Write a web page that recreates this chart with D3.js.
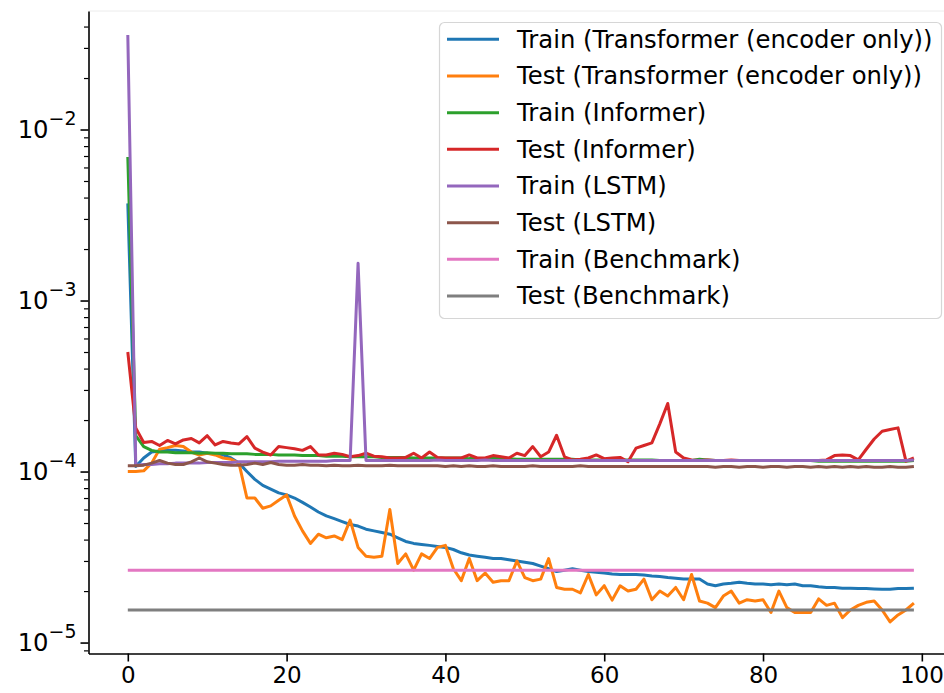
<!DOCTYPE html>
<html>
<head>
<meta charset="utf-8">
<script src="https://cdn.jsdelivr.net/npm/d3@7"></script>
<style>
  html, body { margin: 0; padding: 0; background: #fff; }
  svg { display: block; }
  text { font-family: "DejaVu Sans", sans-serif; }
</style>
</head>
<body>
<svg id="chart" width="944" height="693"></svg>
<script>
// ---------------- DATA ----------------
const seriesNames = [
  "Train (Transformer (encoder only))",
  "Test (Transformer (encoder only))",
  "Train (Informer)",
  "Test (Informer)",
  "Train (LSTM)",
  "Test (LSTM)",
  "Train (Benchmark)",
  "Test (Benchmark)"
];
const seriesColors = ["#1f77b4", "#ff7f0e", "#2ca02c", "#d62728", "#9467bd", "#8c564b", "#e377c2", "#7f7f7f"];

const xTicks = [0, 20, 40, 60, 80, 100];
const yMajorTicks = [1e-5, 1e-4, 1e-3, 1e-2];
const yTickExponents = ["−5", "−4", "−3", "−2"];

const trainTransformer = [
  3.7e-3, 1.07e-4, 1.2e-4, 1.3e-4, 1.32e-4, 1.33e-4, 1.33e-4, 1.32e-4, 1.3e-4, 1.3e-4,
  1.28e-4, 1.27e-4, 1.25e-4, 1.2e-4, 1.12e-4, 1.0e-4, 9.0e-5, 8.3e-5, 7.9e-5, 7.5e-5,
  7.3e-5, 7.0e-5, 6.6e-5, 6.2e-5, 5.8e-5, 5.5e-5, 5.3e-5, 5.1e-5, 4.9e-5, 4.8e-5,
  4.6e-5, 4.5e-5, 4.4e-5, 4.3e-5, 4.1e-5, 3.9e-5, 3.8e-5, 3.75e-5, 3.7e-5, 3.65e-5,
  3.6e-5, 3.5e-5, 3.35e-5, 3.25e-5, 3.2e-5, 3.15e-5, 3.1e-5, 3.1e-5, 3.05e-5, 3.0e-5,
  2.95e-5, 2.9e-5, 2.8e-5, 2.7e-5, 2.6e-5, 2.65e-5, 2.7e-5, 2.65e-5, 2.6e-5, 2.58e-5,
  2.55e-5, 2.52e-5, 2.5e-5, 2.5e-5, 2.5e-5, 2.48e-5, 2.45e-5, 2.43e-5, 2.4e-5, 2.38e-5,
  2.35e-5, 2.35e-5, 2.35e-5, 2.2e-5, 2.15e-5, 2.2e-5, 2.22e-5, 2.25e-5, 2.22e-5, 2.2e-5,
  2.2e-5, 2.18e-5, 2.2e-5, 2.18e-5, 2.2e-5, 2.15e-5, 2.15e-5, 2.12e-5, 2.1e-5, 2.1e-5,
  2.08e-5, 2.08e-5, 2.07e-5, 2.07e-5, 2.06e-5, 2.05e-5, 2.05e-5, 2.07e-5, 2.07e-5, 2.08e-5
];
const testTransformer = [
  1.0e-4, 1.0e-4, 1.01e-4, 1.12e-4, 1.35e-4, 1.38e-4, 1.42e-4, 1.4e-4, 1.3e-4, 1.25e-4,
  1.28e-4, 1.25e-4, 1.2e-4, 1.18e-4, 1.12e-4, 7.0e-5, 7.0e-5, 6.1e-5, 6.3e-5, 6.8e-5,
  7.3e-5, 5.5e-5, 4.5e-5, 3.8e-5, 4.3e-5, 4.1e-5, 4.2e-5, 4.0e-5, 5.2e-5, 3.6e-5,
  3.2e-5, 3.15e-5, 3.2e-5, 6.0e-5, 2.9e-5, 3.3e-5, 2.65e-5, 3.3e-5, 3.1e-5, 3.6e-5,
  3.7e-5, 2.7e-5, 2.3e-5, 3.1e-5, 2.3e-5, 2.55e-5, 2.25e-5, 2.3e-5, 2.3e-5, 3.0e-5,
  2.4e-5, 2.3e-5, 2.35e-5, 3.1e-5, 2.1e-5, 2.05e-5, 2.05e-5, 1.95e-5, 2.5e-5, 1.9e-5,
  2.15e-5, 1.77e-5, 2.15e-5, 2.0e-5, 2.05e-5, 2.35e-5, 1.78e-5, 2.0e-5, 1.87e-5, 2.1e-5,
  1.78e-5, 2.5e-5, 1.75e-5, 1.7e-5, 1.6e-5, 1.87e-5, 2.0e-5, 1.7e-5, 1.78e-5, 1.75e-5,
  1.78e-5, 1.5e-5, 2.0e-5, 1.6e-5, 1.5e-5, 1.5e-5, 1.5e-5, 1.8e-5, 1.65e-5, 1.7e-5,
  1.4e-5, 1.55e-5, 1.65e-5, 1.72e-5, 1.75e-5, 1.55e-5, 1.32e-5, 1.45e-5, 1.55e-5, 1.7e-5
];
const trainInformer = [
  6.9e-3, 1.62e-4, 1.4e-4, 1.33e-4, 1.3e-4, 1.3e-4, 1.29e-4, 1.29e-4, 1.29e-4, 1.28e-4,
  1.29e-4, 1.28e-4, 1.28e-4, 1.27e-4, 1.27e-4, 1.27e-4, 1.26e-4, 1.26e-4, 1.26e-4, 1.25e-4,
  1.25e-4, 1.25e-4, 1.24e-4, 1.24e-4, 1.24e-4, 1.23e-4, 1.23e-4, 1.23e-4, 1.22e-4, 1.22e-4,
  1.22e-4, 1.22e-4, 1.21e-4, 1.21e-4, 1.21e-4, 1.21e-4, 1.2e-4, 1.2e-4, 1.2e-4, 1.2e-4,
  1.2e-4, 1.2e-4, 1.2e-4, 1.19e-4, 1.19e-4, 1.19e-4, 1.19e-4, 1.19e-4, 1.19e-4, 1.18e-4,
  1.18e-4, 1.18e-4, 1.18e-4, 1.18e-4, 1.18e-4, 1.18e-4, 1.18e-4, 1.17e-4, 1.17e-4, 1.17e-4,
  1.17e-4, 1.17e-4, 1.17e-4, 1.17e-4, 1.17e-4, 1.17e-4, 1.17e-4, 1.16e-4, 1.16e-4, 1.16e-4,
  1.16e-4, 1.16e-4, 1.18e-4, 1.17e-4, 1.16e-4, 1.16e-4, 1.16e-4, 1.16e-4, 1.16e-4, 1.16e-4,
  1.16e-4, 1.16e-4, 1.16e-4, 1.16e-4, 1.16e-4, 1.16e-4, 1.16e-4, 1.15e-4, 1.15e-4, 1.15e-4,
  1.15e-4, 1.15e-4, 1.15e-4, 1.15e-4, 1.15e-4, 1.15e-4, 1.15e-4, 1.15e-4, 1.15e-4, 1.16e-4
];
const testInformer = [
  5.0e-4, 1.8e-4, 1.48e-4, 1.5e-4, 1.42e-4, 1.52e-4, 1.45e-4, 1.53e-4, 1.56e-4, 1.47e-4,
  1.62e-4, 1.43e-4, 1.5e-4, 1.47e-4, 1.45e-4, 1.6e-4, 1.37e-4, 1.3e-4, 1.25e-4, 1.4e-4,
  1.38e-4, 1.36e-4, 1.33e-4, 1.4e-4, 1.25e-4, 1.25e-4, 1.28e-4, 1.26e-4, 1.22e-4, 1.24e-4,
  1.28e-4, 1.23e-4, 1.22e-4, 1.2e-4, 1.2e-4, 1.21e-4, 1.28e-4, 1.2e-4, 1.3e-4, 1.21e-4,
  1.2e-4, 1.2e-4, 1.2e-4, 1.25e-4, 1.2e-4, 1.2e-4, 1.24e-4, 1.22e-4, 1.2e-4, 1.28e-4,
  1.24e-4, 1.4e-4, 1.22e-4, 1.3e-4, 1.63e-4, 1.22e-4, 1.17e-4, 1.18e-4, 1.2e-4, 1.25e-4,
  1.19e-4, 1.2e-4, 1.21e-4, 1.14e-4, 1.37e-4, 1.42e-4, 1.47e-4, 1.9e-4, 2.5e-4, 1.3e-4,
  1.2e-4, 1.17e-4, 1.16e-4, 1.17e-4, 1.16e-4, 1.16e-4, 1.17e-4, 1.16e-4, 1.16e-4, 1.16e-4,
  1.16e-4, 1.16e-4, 1.16e-4, 1.16e-4, 1.16e-4, 1.16e-4, 1.16e-4, 1.16e-4, 1.17e-4, 1.24e-4,
  1.25e-4, 1.24e-4, 1.17e-4, 1.35e-4, 1.55e-4, 1.72e-4, 1.76e-4, 1.8e-4, 1.15e-4, 1.2e-4
];
const trainLSTM = [
  3.57e-2, 1.09e-4, 1.1e-4, 1.1e-4, 1.11e-4, 1.11e-4, 1.12e-4, 1.12e-4, 1.12e-4, 1.12e-4,
  1.13e-4, 1.13e-4, 1.13e-4, 1.13e-4, 1.14e-4, 1.14e-4, 1.14e-4, 1.14e-4, 1.14e-4, 1.15e-4,
  1.15e-4, 1.15e-4, 1.15e-4, 1.15e-4, 1.15e-4, 1.15e-4, 1.16e-4, 1.16e-4, 1.16e-4, 1.65e-3,
  1.16e-4, 1.16e-4, 1.16e-4, 1.16e-4, 1.16e-4, 1.16e-4, 1.16e-4, 1.16e-4, 1.16e-4, 1.17e-4,
  1.16e-4, 1.16e-4, 1.16e-4, 1.16e-4, 1.16e-4, 1.17e-4, 1.16e-4, 1.16e-4, 1.16e-4, 1.16e-4,
  1.16e-4, 1.16e-4, 1.16e-4, 1.16e-4, 1.16e-4, 1.16e-4, 1.16e-4, 1.16e-4, 1.16e-4, 1.16e-4,
  1.16e-4, 1.16e-4, 1.16e-4, 1.16e-4, 1.16e-4, 1.16e-4, 1.16e-4, 1.16e-4, 1.16e-4, 1.16e-4,
  1.16e-4, 1.16e-4, 1.16e-4, 1.16e-4, 1.16e-4, 1.16e-4, 1.16e-4, 1.16e-4, 1.16e-4, 1.16e-4,
  1.16e-4, 1.16e-4, 1.16e-4, 1.16e-4, 1.16e-4, 1.16e-4, 1.16e-4, 1.16e-4, 1.16e-4, 1.16e-4,
  1.16e-4, 1.16e-4, 1.16e-4, 1.16e-4, 1.16e-4, 1.16e-4, 1.16e-4, 1.16e-4, 1.16e-4, 1.17e-4
];
const testLSTM = [
  1.08e-4, 1.08e-4, 1.09e-4, 1.12e-4, 1.16e-4, 1.12e-4, 1.1e-4, 1.1e-4, 1.14e-4, 1.2e-4,
  1.14e-4, 1.12e-4, 1.1e-4, 1.09e-4, 1.09e-4, 1.1e-4, 1.12e-4, 1.1e-4, 1.13e-4, 1.1e-4,
  1.09e-4, 1.09e-4, 1.1e-4, 1.09e-4, 1.09e-4, 1.08e-4, 1.09e-4, 1.08e-4, 1.08e-4, 1.09e-4,
  1.08e-4, 1.08e-4, 1.08e-4, 1.09e-4, 1.08e-4, 1.08e-4, 1.08e-4, 1.08e-4, 1.08e-4, 1.08e-4,
  1.07e-4, 1.08e-4, 1.07e-4, 1.08e-4, 1.07e-4, 1.07e-4, 1.08e-4, 1.07e-4, 1.07e-4, 1.07e-4,
  1.07e-4, 1.08e-4, 1.07e-4, 1.07e-4, 1.07e-4, 1.07e-4, 1.07e-4, 1.08e-4, 1.07e-4, 1.07e-4,
  1.07e-4, 1.07e-4, 1.07e-4, 1.07e-4, 1.07e-4, 1.07e-4, 1.07e-4, 1.07e-4, 1.07e-4, 1.07e-4,
  1.07e-4, 1.07e-4, 1.07e-4, 1.07e-4, 1.06e-4, 1.07e-4, 1.07e-4, 1.06e-4, 1.07e-4, 1.07e-4,
  1.06e-4, 1.07e-4, 1.07e-4, 1.06e-4, 1.07e-4, 1.07e-4, 1.06e-4, 1.07e-4, 1.06e-4, 1.07e-4,
  1.06e-4, 1.07e-4, 1.06e-4, 1.07e-4, 1.06e-4, 1.06e-4, 1.07e-4, 1.06e-4, 1.06e-4, 1.07e-4
];
const benchmarkTrain = 2.65e-5;   // constant over all epochs
const benchmarkTest = 1.55e-5;    // constant over all epochs
const lastEpoch = 99;

// ---------------- CHART ----------------
const svg = d3.select("#chart");
const FONT = 24.3;
const XFONT = 23;

const x = d3.scaleLinear().domain([-4.95, 103.95]).range([88.5, 953.2]);
const y = d3.scaleLog().domain([Math.pow(10, -5.064), Math.pow(10, -1.307)]).range([653.5, 11]);

// faint top border like the reference
svg.append("line").attr("x1", 88.5).attr("x2", 944).attr("y1", 11).attr("y2", 11)
  .attr("stroke", "#ececec").attr("stroke-width", 1);

const toPoints = arr => arr.map((v, i) => [i, v]);
const lineGen = d3.line().x(d => x(d[0])).y(d => y(d[1]));

const allSeries = [
  toPoints(trainTransformer),
  toPoints(testTransformer),
  toPoints(trainInformer),
  toPoints(testInformer),
  toPoints(trainLSTM),
  toPoints(testLSTM),
  [[0, benchmarkTrain], [lastEpoch, benchmarkTrain]],
  [[0, benchmarkTest], [lastEpoch, benchmarkTest]]
];

const plot = svg.append("g");
allSeries.forEach((pts, i) => {
  plot.append("path")
    .attr("d", lineGen(pts))
    .attr("fill", "none")
    .attr("stroke", seriesColors[i])
    .attr("stroke-width", 3)
    .attr("stroke-linejoin", "round")
    .attr("stroke-linecap", "butt");
});

// X axis
const xAxis = svg.append("g")
  .attr("transform", "translate(0,653.5)")
  .call(d3.axisBottom(x).tickValues(xTicks).tickSize(8).tickSizeOuter(0).tickPadding(5));
xAxis.select(".domain").attr("stroke", "#000").attr("stroke-width", 1.6);
xAxis.selectAll(".tick line").attr("stroke", "#000").attr("stroke-width", 1.6);
xAxis.selectAll(".tick text").attr("font-size", XFONT).attr("font-family", "DejaVu Sans").attr("fill", "#000");
// keep the last label inside the picture, as in the reference
xAxis.selectAll(".tick text").filter(d => d === 100).attr("text-anchor", "end").attr("x", 21.5);

// Y axis (log) with minor ticks
const minorTicks = [];
[-6, -5, -4, -3, -2].forEach(e => {
  for (let m = 2; m <= 9; m++) {
    const v = m * Math.pow(10, e);
    if (v >= y.domain()[0] && v <= y.domain()[1]) minorTicks.push(v);
  }
});
const yMinor = svg.append("g")
  .attr("transform", "translate(88.5,0)")
  .call(d3.axisLeft(y).tickValues(minorTicks).tickSize(4.5).tickFormat(""));
yMinor.select(".domain").remove();
yMinor.selectAll(".tick line").attr("stroke", "#000").attr("stroke-width", 1.2);

const yAxis = svg.append("g")
  .attr("transform", "translate(88.5,0)")
  .call(d3.axisLeft(y).tickValues(yMajorTicks).tickSize(8).tickSizeOuter(0).tickFormat(""));
yAxis.select(".domain").attr("stroke", "#000").attr("stroke-width", 1.6);
yAxis.selectAll(".tick line").attr("stroke", "#000").attr("stroke-width", 1.6);
yAxis.selectAll(".tick").each(function(d, i) {
  const t = d3.select(this).append("text")
    .attr("x", -12).attr("y", 0).attr("dy", "0.34em")
    .attr("text-anchor", "end")
    .attr("font-size", FONT)
    .attr("fill", "#000");
  t.append("tspan").text("10");
  t.append("tspan").attr("font-size", FONT * 0.78).attr("dy", "-0.72em").text(yTickExponents[i]);
});

// Legend
const legend = svg.append("g");
legend.append("rect")
  .attr("x", 439.5).attr("y", 22.5).attr("width", 502).attr("height", 296)
  .attr("rx", 5).attr("ry", 5)
  .attr("fill", "#fff").attr("fill-opacity", 0.8)
  .attr("stroke", "#d6d6d6").attr("stroke-width", 1.2);
seriesNames.forEach((name, i) => {
  const cy = 39.3 + i * 36.67;
  legend.append("line")
    .attr("x1", 447).attr("x2", 499).attr("y1", cy).attr("y2", cy)
    .attr("stroke", seriesColors[i]).attr("stroke-width", 3);
  legend.append("text")
    .attr("x", 517).attr("y", cy).attr("dy", "0.35em")
    .attr("font-size", FONT).attr("fill", "#000")
    .text(name);
});
</script>
</body>
</html>
